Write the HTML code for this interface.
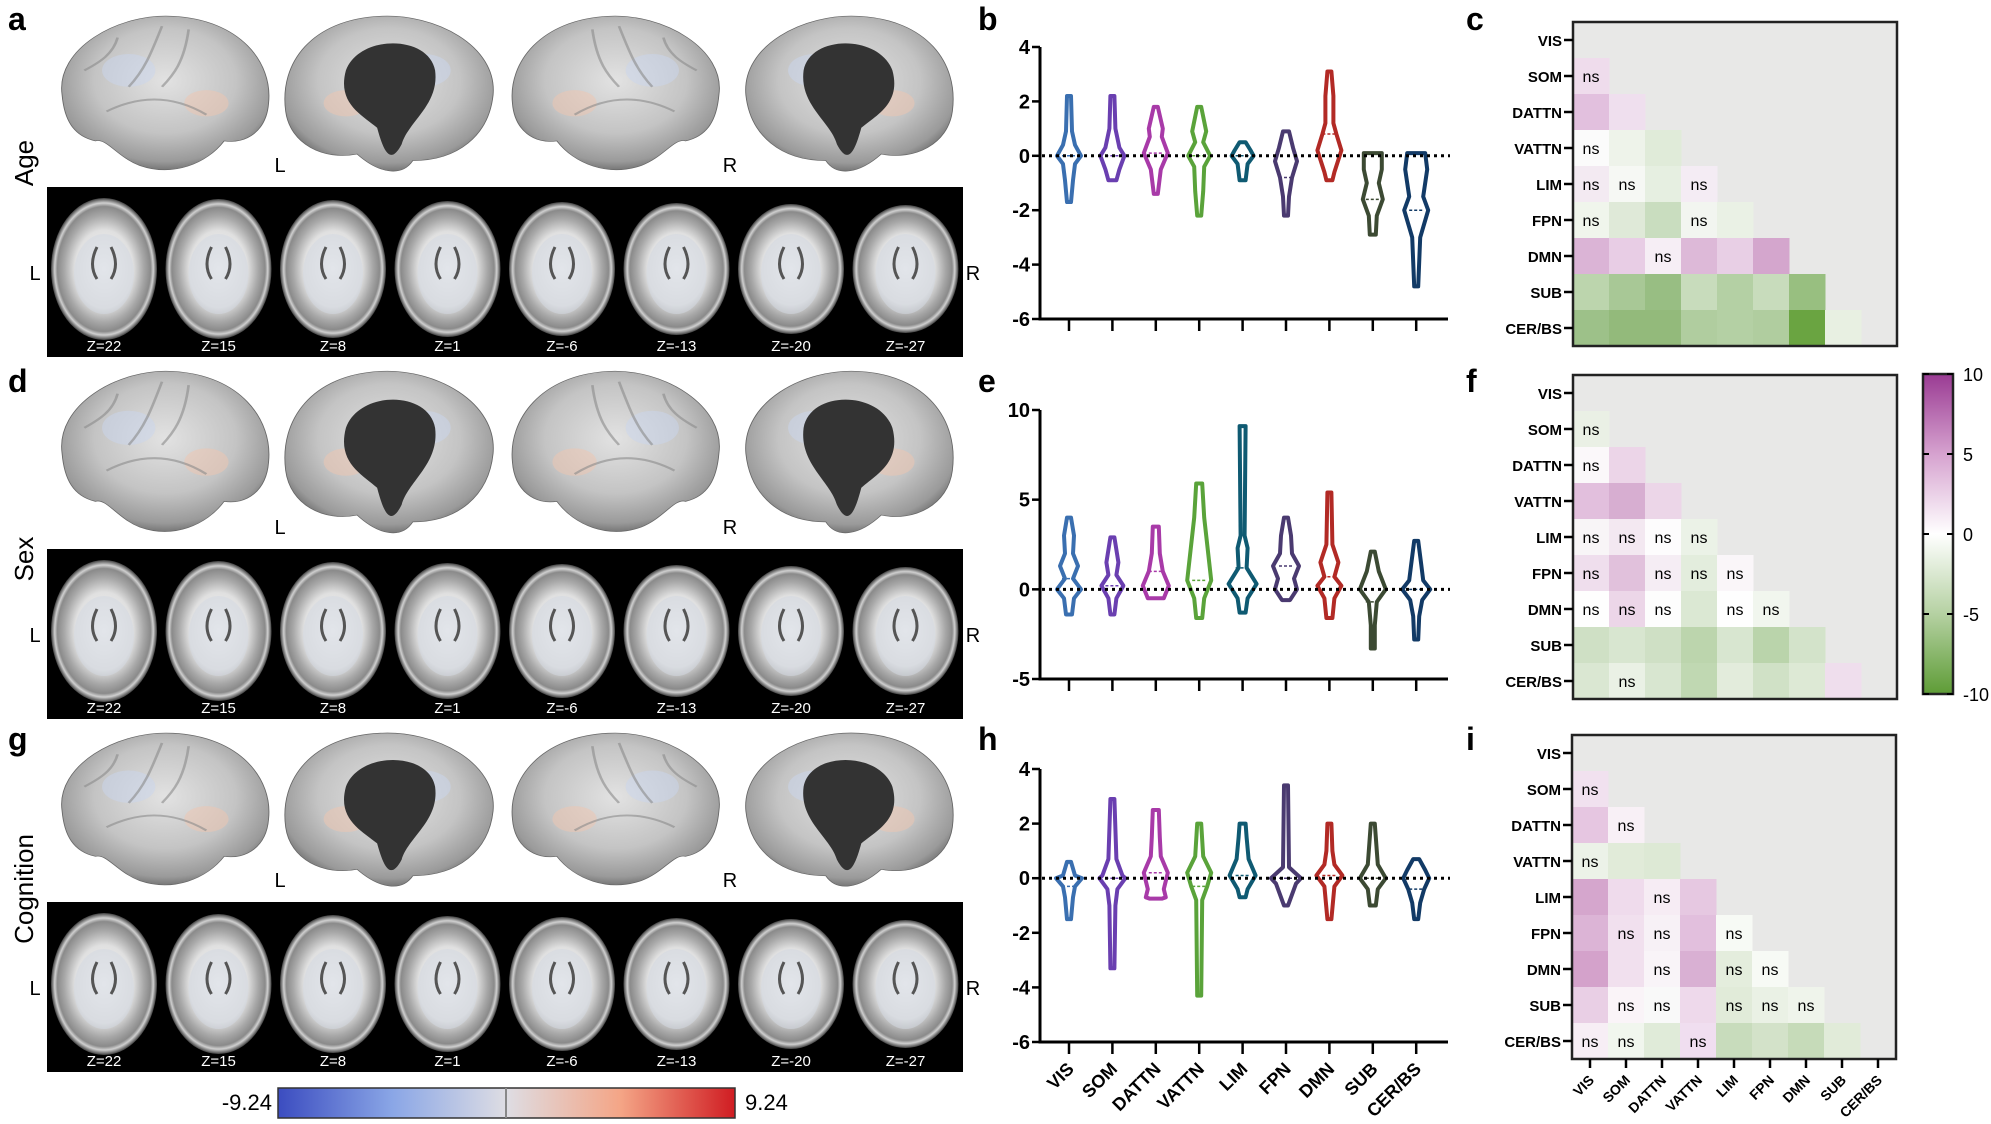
<!DOCTYPE html>
<html><head><meta charset="utf-8"><style>
html,body{margin:0;padding:0;background:#fff;}
svg{display:block;font-family:"Liberation Sans",Arial,sans-serif;}
</style></head><body>
<svg id="s" width="1991" height="1124" viewBox="0 0 1991 1124" xmlns="http://www.w3.org/2000/svg">
<defs>
<radialGradient id="bg" cx="0.5" cy="0.42" r="0.62"><stop offset="0" stop-color="#e2e2e2"/><stop offset="0.55" stop-color="#c4c4c4"/><stop offset="0.85" stop-color="#9a9a9a"/><stop offset="1" stop-color="#5e5e5e"/></radialGradient>
<radialGradient id="ax" cx="0.5" cy="0.5" r="0.5"><stop offset="0" stop-color="#f4f4f4"/><stop offset="0.55" stop-color="#e0e0e0"/><stop offset="0.75" stop-color="#a8a8a8"/><stop offset="0.88" stop-color="#8a8a8a"/><stop offset="0.93" stop-color="#d0d0d0"/><stop offset="1" stop-color="#404040"/></radialGradient>
<linearGradient id="cb" x1="0" x2="1"><stop offset="0" stop-color="#3b4cc0"/><stop offset="0.25" stop-color="#8aa6e6"/><stop offset="0.5" stop-color="#dedde3"/><stop offset="0.75" stop-color="#f4a586"/><stop offset="1" stop-color="#d01c22"/></linearGradient>
<linearGradient id="pg" x1="0" x2="0" y1="0" y2="1"><stop offset="0" stop-color="#9a3b93"/><stop offset="0.25" stop-color="#d6a2cf"/><stop offset="0.5" stop-color="#ffffff"/><stop offset="0.75" stop-color="#b5d1a2"/><stop offset="1" stop-color="#5e9c36"/></linearGradient>
</defs>
<g id="root"></g>
</svg>
<script>
var R=document.getElementById('root'),h='';
function t(x,y,s,o){o=o||{};h+='<text x="'+x+'" y="'+y+'" font-size="'+(o.fs||16)+'" font-weight="'+(o.fw||'normal')+'" fill="'+(o.c||'#000')+'" text-anchor="'+(o.a||'start')+'"'+(o.tr?' transform="'+o.tr+'"':'')+'>'+s+'</text>';}
[['a',8,30],['d',8,392],['g',8,750],['b',978,30],['e',978,392],['h',978,750],['c',1466,30],['f',1466,392],['i',1466,750]].forEach(function(p){t(p[1],p[2],p[0],{fs:32,fw:'bold'});});
[['Age',163],['Sex',559],['Cognition',889]].forEach(function(p){t(33,p[1],p[0],{fs:26,a:'middle',tr:'rotate(-90 33 '+p[1]+')'});});
var lat='M0.05,0.5 C0.02,0.22 0.3,0.0 0.55,0.02 C0.85,0.04 1.0,0.3 0.98,0.55 C0.97,0.72 0.88,0.8 0.78,0.78 C0.7,0.92 0.55,1.0 0.4,0.93 C0.3,0.88 0.25,0.76 0.2,0.78 C0.1,0.75 0.06,0.65 0.05,0.5Z';
var med='M0.04,0.5 C0.02,0.2 0.3,0.0 0.55,0.02 C0.85,0.04 1.0,0.3 0.97,0.6 C0.95,0.8 0.8,0.9 0.65,0.86 C0.55,0.98 0.45,1.0 0.4,0.9 C0.2,0.9 0.06,0.75 0.04,0.5Z';
function brain(x,y,w,hh,medial,flip){
 var tr='translate('+x+','+y+') scale('+w+','+hh+')';
 if(flip) tr='translate('+(x+w)+','+y+') scale('+(-w)+','+hh+')';
 h+='<g transform="'+tr+'"><path d="'+(medial?med:lat)+'" fill="url(#bg)" stroke="#666" stroke-width="0.004"/>';
 h+='<ellipse cx="0.35" cy="0.35" rx="0.12" ry="0.1" fill="#c9d6ee" opacity="0.5"/><ellipse cx="0.7" cy="0.55" rx="0.1" ry="0.08" fill="#f0c6b0" opacity="0.5"/>';
 if(!medial) h+='<path d="M0.25,0.6 C0.4,0.5 0.55,0.5 0.7,0.62 M0.5,0.08 C0.45,0.25 0.42,0.35 0.35,0.45 M0.62,0.1 C0.6,0.3 0.55,0.38 0.5,0.45 M0.3,0.15 C0.28,0.25 0.22,0.3 0.15,0.35" stroke="#8a8a8a" stroke-width="0.012" fill="none" opacity="0.6"/>';
 if(medial) h+='<path d="M0.3,0.35 C0.33,0.13 0.64,0.13 0.7,0.35 C0.74,0.55 0.63,0.62 0.56,0.7 C0.53,0.85 0.5,0.93 0.45,0.8 C0.42,0.66 0.28,0.56 0.3,0.35Z" fill="#333"/>';
 h+='</g>';
}
function axial(y){
 h+='<rect x="47" y="'+y+'" width="916" height="170" fill="#000"/>';
 var zs=['Z=22','Z=15','Z=8','Z=1','Z=-6','Z=-13','Z=-20','Z=-27'];
 for(var i=0;i<8;i++){var cx=104+114.5*i,cy=y+82;
  h+='<ellipse cx="'+cx+'" cy="'+cy+'" rx="53" ry="'+(71-i)+'" fill="url(#ax)"/>';
  h+='<ellipse cx="'+cx+'" cy="'+(cy+5)+'" rx="30" ry="40" fill="#d4d8e2" opacity="0.55"/>';
  h+='<path d="M'+(cx-7)+','+(cy-22)+' q-9,18 0,32 M'+(cx+7)+','+(cy-22)+' q9,18 0,32" stroke="#555" stroke-width="3" fill="none"/>';
  t(cx,y+164,zs[i],{fs:15,c:'#fff',a:'middle'});}
 t(35,y+93,'L',{fs:20,a:'middle'});t(973,y+93,'R',{fs:20,a:'middle'});
}
[[13,187],[368,549],[730,902]].forEach(function(r){
 var by=r[0],hh=r[1]-r[0]-10;
 brain(51,by,222,hh,false,false);brain(279,by,223,hh,true,true);brain(508,by,222,hh,false,true);brain(737,by,222,hh,true,false);
 t(280,by+hh-5,'L',{fs:20,a:'middle'});t(730,by+hh-5,'R',{fs:20,a:'middle'});
 axial(r[1]);
});
h+='<rect x="278" y="1088" width="457" height="30" fill="url(#cb)" stroke="#333" stroke-width="1.5"/><line x1="506" y1="1088" x2="506" y2="1118" stroke="#888" stroke-width="2"/>';
t(272,1110,'-9.24',{fs:22,a:'end'});t(745,1110,'9.24',{fs:22});
var cols=['#3a6fb0','#6a3fb0','#a83aa8','#5aa33a','#0f5a72','#4a3a70','#b22a25','#3c4a33','#123a66'];
function chart(y0v,ytop,ybot,vmax,vmin,ticks,data,xl){
 var sc=(ybot-ytop)/(vmax-vmin);function Y(v){return ytop+(vmax-v)*sc;}
 h+='<path d="M1040,'+ytop+' V'+ybot+' H1448" stroke="#000" stroke-width="3" fill="none"/>';
 ticks.forEach(function(v){h+='<line x1="1032" x2="1040" y1="'+Y(v)+'" y2="'+Y(v)+'" stroke="#000" stroke-width="2.5"/>';t(1030,Y(v)+7,v<0?'-'+(-v):v,{fs:20,fw:'bold',a:'end'});});
 for(var i=0;i<9;i++){var x=1069+43.4*i;h+='<line x1="'+x+'" x2="'+x+'" y1="'+ybot+'" y2="'+(ybot+12)+'" stroke="#000" stroke-width="2.5"/>';
  var d=data[i],L=[],Rt=[];d.forEach(function(p){Rt.push((x+p[1])+','+Y(p[0]));L.unshift((x-p[1])+','+Y(p[0]));});
  h+='<polygon points="'+Rt.join(' ')+' '+L.join(' ')+'" fill="#fff" stroke="'+cols[i]+'" stroke-width="4" stroke-linejoin="round"/>';
  h+='<line x1="'+(x-7)+'" x2="'+(x+7)+'" y1="'+Y(d[Math.floor(d.length/2)][0])+'" y2="'+Y(d[Math.floor(d.length/2)][0])+'" stroke="'+cols[i]+'" stroke-width="1.5" stroke-dasharray="3,2"/>';
  if(xl){var lb=['VIS','SOM','DATTN','VATTN','LIM','FPN','DMN','SUB','CER/BS'][i];t(x+6,ybot+28,lb,{fs:18,fw:'bold',a:'end',tr:'rotate(-45 '+(x+6)+' '+(ybot+28)+')'});}
 }
 h+='<line x1="1042" x2="1450" y1="'+Y(0)+'" y2="'+Y(0)+'" stroke="#000" stroke-width="3" stroke-dasharray="3,4"/>';
}
chart(0,47,319,4,-6,[4,2,0,-2,-4,-6],[
[[2.2,2],[0.9,3],[0.4,6],[0,12],[-0.3,6],[-0.9,4],[-1.7,2]],
[[2.2,2],[1,3],[0.3,7],[0,12],[-0.5,7],[-0.9,4]],
[[1.8,2],[1,7],[0.7,6],[0.1,12],[-0.5,5],[-1.4,2]],
[[1.8,2],[0.9,7],[0.5,4],[0,11],[-0.4,5],[-1.3,4],[-2.2,2]],
[[0.5,3],[0.2,8],[0,11],[-0.3,5],[-0.9,3]],
[[0.9,3],[0.3,7],[-0.2,11],[-0.8,6],[-1.5,3],[-2.2,2]],
[[3.1,2],[2.2,4],[1.2,4],[0.8,7],[0.2,12],[-0.6,5],[-0.9,3]],
[[0.1,9],[-0.5,9],[-1,6],[-1.6,10],[-2.2,4],[-2.9,3]],
[[0.1,9],[-0.5,11],[-1.5,7],[-2,12],[-3,4],[-4.8,2]]],false);
chart(0,410,679,10,-5,[10,5,0,-5],[
[[4,2],[3,5],[2,4],[1.3,9],[0.6,4],[0,12],[-0.5,5],[-1.4,3]],
[[2.9,2],[1.5,6],[0.8,4],[0.2,11],[-0.5,4],[-1.4,2]],
[[3.5,3],[2,4],[1,7],[0.2,13],[-0.5,8]],
[[5.9,3],[4,5],[2.5,8],[0.5,12],[-0.5,5],[-1.6,3]],
[[9.1,3],[3,2],[2.3,5],[1.2,4],[0.3,14],[-0.5,5],[-1.3,3]],
[[4,2],[3,5],[2,6],[1.3,13],[0.6,8],[0,11],[-0.6,4]],
[[5.4,2],[2.5,3],[1.5,9],[0.7,5],[0.2,12],[-0.5,5],[-1.6,3]],
[[2.1,2],[1,6],[0,13],[-0.7,4],[-2,2],[-3.3,2]],
[[2.7,2],[1.4,5],[0.5,7],[0,14],[-0.6,6],[-1.5,3],[-2.8,2]]],false);
chart(0,769,1042,4,-6,[4,2,0,-2,-4,-6],[
[[0.6,2],[0.1,6],[0,13],[-0.3,6],[-0.7,4],[-1.5,2]],
[[2.9,2],[0.7,4],[0.1,10],[0,13],[-0.4,5],[-1,3],[-3.3,2]],
[[2.5,3],[1.5,4],[0.8,5],[0.2,12],[-0.4,8],[-0.7,10],[-0.75,6]],
[[2,2],[0.8,4],[0.2,12],[-0.3,8],[-0.8,3],[-4.3,2]],
[[2,3],[1.5,4],[0.7,6],[0.1,13],[-0.4,5],[-0.7,3]],
[[3.4,2],[0.4,3],[0.1,12],[0,15],[-0.2,10],[-1,2]],
[[2,2],[1,3],[0.5,5],[0.1,13],[-0.3,5],[-1.5,2]],
[[2,2],[0.5,5],[0,13],[-0.4,5],[-1,3]],
[[0.7,3],[0.3,9],[0,13],[-0.4,8],[-0.9,4],[-1.5,2]]],true);
var labs=['VIS','SOM','DATTN','VATTN','LIM','FPN','DMN','SUB','CER/BS'];
function hm(x0,y0,cells,xl){
 var c=36;
 h+='<rect x="'+x0+'" y="'+y0+'" width="'+(9*c)+'" height="'+(9*c)+'" fill="#e8e8e7"/>';
 cells.forEach(function(row,ri){var r=ri+1;row.forEach(function(cl,ci){var s=cl.split(' ');
  h+='<rect x="'+(x0+ci*c)+'" y="'+(y0+r*c)+'" width="'+(c+0.5)+'" height="'+(c+0.5)+'" fill="'+s[0]+'"/>';
  if(s[1])t(x0+ci*c+c/2,y0+r*c+c/2+6,'ns',{fs:16,a:'middle'});});});
 h+='<rect x="'+x0+'" y="'+y0+'" width="'+(9*c)+'" height="'+(9*c)+'" fill="none" stroke="#222" stroke-width="2.5"/>';
 for(var i=0;i<9;i++){var yy=y0+i*c+c/2;h+='<line x1="'+(x0-9)+'" x2="'+x0+'" y1="'+yy+'" y2="'+yy+'" stroke="#000" stroke-width="2.5"/>';t(x0-11,yy+6,labs[i],{fs:15,fw:'bold',a:'end'});
  if(xl){var xx=x0+i*c+c/2;h+='<line x1="'+xx+'" x2="'+xx+'" y1="'+(y0+9*c)+'" y2="'+(y0+9*c+9)+'" stroke="#000" stroke-width="2.5"/>';t(xx+5,y0+9*c+22,labs[i],{fs:14,fw:'bold',a:'end',tr:'rotate(-45 '+(xx+5)+' '+(y0+9*c+22)+')'});}}
}
hm(1573,22,[['#efdcec n'],['#e2c0de','#efdfee'],['#fbfbfb n','#eef3ea','#e0ebd9'],['#f3eaf2 n','#f6f8f4 n','#e6efe1','#f4ecf4 n'],['#f0f5ec n','#dfe9d8','#c9ddbf','#f2f5f0 n','#eaf1e5'],['#dbb4d6','#e8cde5','#f6eef5 n','#ddb9d8','#e8cfe5','#d4a6cd'],['#bcd5ad','#a8c896','#98be83','#c8dcbc','#b4d0a4','#c8dcbc','#98bf80'],['#9dc189','#93ba7b','#93ba7b','#b0cd9f','#b4d0a4','#b0cd9f','#6aa441','#e8f0e2']],false);
hm(1573,375,[['#eaf0e5 n'],['#fbf8fa n','#ecd5e8'],['#e2bfdd','#d7aed1','#ecd6e8'],['#f8f5f7 n','#f3e8f1 n','#fdfcfd n','#ebf2e7 n'],['#efdeed n','#e1c1dc','#f5edf4 n','#e3eddd n','#faf6f9 n'],['#fefefe n','#ecd6e8 n','#fdfdfd n','#dbe8d3','#fefefe n','#f1f6ee n'],['#cfe0c5','#d8e6d0','#cfe0c5','#bcd5ad','#d8e6d0','#bad4ab','#d3e3ca'],['#dae7d2','#eaf1e5 n','#d8e6d0','#c0d8b2','#e3ecdc','#d0e1c6','#dde9d5','#efdeed']],false);
hm(1572,735,[['#f1e1ef n'],['#e6c6e1','#f8f0f6 n'],['#ecf2e8 n','#e1ebd9','#dde9d5'],['#d5a6cd','#efdbec','#f6ecf4 n','#e6c8e1'],['#dcb4d6','#f1e0ee n','#f7f1f6 n','#e2bfdd','#f7faf5 n'],['#d4a2cb','#f1e0ee','#f9f4f8 n','#d9b0d3','#e4eddd n','#f7faf5 n'],['#e9cfe5','#faf4f8 n','#f9f9f9 n','#eed9eb','#e1ebd9 n','#eaf1e5 n','#eff4eb n'],['#f7eef5 n','#f1f6ee n','#e0ebd9','#f0def0 n','#c8dcbc','#d3e2c9','#c6dbb9','#e1ebd9']],true);
h+='<rect x="1923" y="374" width="30" height="320" fill="url(#pg)" stroke="#222" stroke-width="2.5"/>';
[[10,374],[5,454],[0,534],[-5,614],[-10,694]].forEach(function(p){h+='<line x1="1923" x2="1929" y1="'+p[1]+'" y2="'+p[1]+'" stroke="#000" stroke-width="2"/><line x1="1947" x2="1953" y1="'+p[1]+'" y2="'+p[1]+'" stroke="#000" stroke-width="2"/>';t(1963,p[1]+7,p[0]<0?'-'+(-p[0]):p[0],{fs:18});});
R.innerHTML=h;
</script>
</body></html>
